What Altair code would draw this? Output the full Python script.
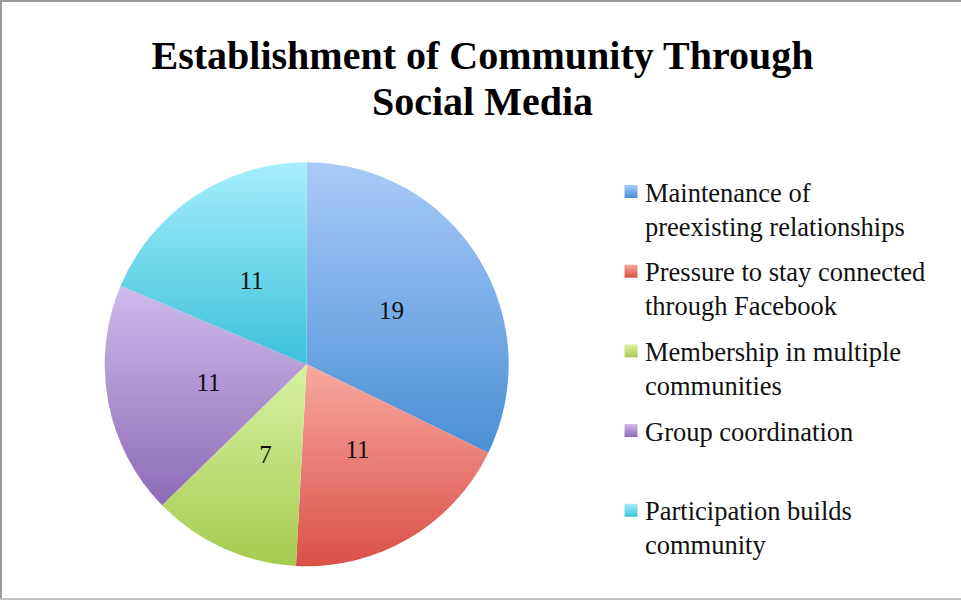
import altair as alt
import pandas as pd

# ---- data ----
categories = [
    "Maintenance of preexisting relationships",
    "Pressure to stay connected through Facebook",
    "Membership in multiple communities",
    "Group coordination",
    "Participation builds community",
]
values = [19, 11, 7, 11, 11]
legend_labels = [
    "Maintenance of\npreexisting relationships",
    "Pressure to stay connected\nthrough Facebook",
    "Membership in multiple\ncommunities",
    "Group coordination",
    "Participation builds\ncommunity",
]
top_colors = ["#a9cbf9", "#f8a9a1", "#daf2a2", "#cebbeb", "#a6eefb"]
bottom_colors = ["#4a8fd5", "#da5047", "#a5cb50", "#8d6bb7", "#3cc1da"]
title_text = "Establishment of Community Through\nSocial Media"

df = pd.DataFrame({
    "category": categories,
    "value": values,
    "label": legend_labels,
    "order": list(range(len(categories))),
})

FONT = "Liberation Serif"
CX, CY, R = 306.7, 364.3, 202

base = (
    alt.Chart(df)
    .transform_joinaggregate(total="sum(value)")
    .transform_window(cum="sum(value)", sort=[alt.SortField("order")], frame=[None, 0])
    .transform_calculate(
        start="(datum.cum - datum.value) / datum.total * 2 * PI",
        end="datum.cum / datum.total * 2 * PI",
        mid="(datum.cum - datum.value / 2) / datum.total * 2 * PI",
    )
)

ycat = alt.Y(
    "category:N",
    scale=alt.Scale(type="point", domain=categories, range=[191.5, 510.3], padding=0),
    axis=None,
)

layers = []
for cat, c1, c2 in zip(categories, top_colors, bottom_colors):
    grad = alt.Gradient(
        gradient="linear",
        stops=[alt.GradientStop(color=c1, offset=0), alt.GradientStop(color=c2, offset=1)],
        x1=0, x2=0, y1=0, y2=1,
    )
    layers.append(
        base.transform_filter(alt.datum.category == cat)
        .mark_arc(radius=R, color=grad, stroke=None)
        .encode(
            theta=alt.Theta("start:Q", scale=None),
            theta2="end:Q",
            x=alt.value(CX),
            y=alt.value(CY),
        )
    )
    layers.append(
        alt.Chart(df)
        .transform_filter(alt.datum.category == cat)
        .mark_square(size=169, color=grad, filled=True, opacity=1)
        .encode(x=alt.value(631), y=ycat)
    )

# slice value labels
layers.append(
    base.mark_text(radius=100, font=FONT, fontSize=25, color="#111111", baseline="middle")
    .encode(
        theta=alt.Theta("mid:Q", scale=None),
        text="value:Q",
        x=alt.value(CX),
        y=alt.value(CY),
    )
)

# legend labels
layers.append(
    alt.Chart(df)
    .mark_text(
        align="left", baseline="alphabetic", font=FONT, fontSize=26.5,
        lineBreak="\n", lineHeight=34, dy=10, color="#111111",
    )
    .encode(x=alt.value(645), y=ycat, text="label:N")
)

# title
title_df = pd.DataFrame({"t": [title_text]})
layers.append(
    alt.Chart(title_df)
    .mark_text(
        align="center", baseline="alphabetic", font=FONT, fontSize=40,
        fontWeight="bold", lineBreak="\n", lineHeight=46, color="#000000",
    )
    .encode(x=alt.value(482.5), y=alt.value(69), text="t:N")
)

# frame
one = pd.DataFrame({"a": [0]})
layers.append(
    alt.Chart(one).mark_rule(color="#9a9a9a", strokeWidth=2)
    .encode(x=alt.value(0), x2=alt.value(961), y=alt.value(1))
)
layers.append(
    alt.Chart(one).mark_rule(color="#9a9a9a", strokeWidth=2)
    .encode(x=alt.value(1), y=alt.value(0), y2=alt.value(600))
)
layers.append(
    alt.Chart(one).mark_rule(color="#c2c2c2", strokeWidth=2)
    .encode(x=alt.value(0), x2=alt.value(961), y=alt.value(599))
)

chart = (
    alt.layer(*layers)
    .properties(width=961, height=600, autosize=alt.AutoSizeParams(type="none"), padding=0,
                background="white")
    .configure_view(stroke=None)
)

chart.save("out.html", embed_options={"renderer": "svg", "actions": False})
